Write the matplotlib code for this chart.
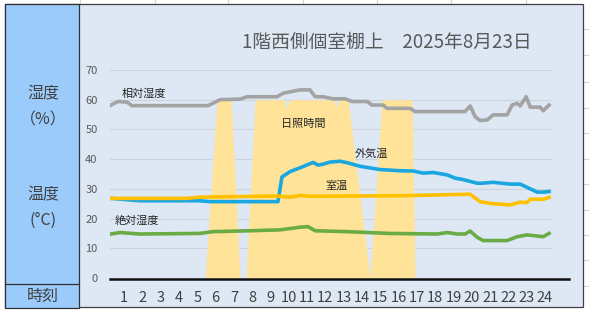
import numpy as np
import matplotlib.pyplot as plt
from matplotlib.patches import Rectangle
from matplotlib.lines import Line2D

plt.rcParams['font.family'] = ['Noto Sans CJK JP', 'DejaVu Sans']

# hour labels along the bottom
hours = list(range(1, 25))

# sunshine (fraction of each 10 min that was sunny)
sun_t = [0.25, 5.43, 6.08, 6.85, 7.34, 7.67, 8.16, 9.75, 9.9, 10.05,
         12.45, 12.6, 12.75, 13.24, 14.44, 15.10, 16.74, 16.9, 24.4]
sun_v = [0, 0, 1, 1, 0, 0, 1, 1, 0.95, 1,
         1, 0.96, 1, 1, 0, 1, 1, 0, 0]

# relative humidity (%)
rh_t = [0.29, 0.67, 1.16, 1.44, 5.59, 6.25, 7.34, 7.72, 9.36, 9.69, 10.62,
        11.16, 11.44, 11.87, 12.42, 13.08, 13.46, 14.28, 14.55, 15.15, 15.37,
        16.63, 16.9, 19.63, 19.91, 20.18, 20.45, 20.84, 21.17, 21.93, 22.2,
        22.48, 22.64, 22.97, 23.19, 23.73, 23.9, 24.22]
rh_v = [58.2, 59.4, 59.2, 58.0, 58.0, 60.0, 60.2, 61.0, 61.0, 62.2, 63.3,
        63.3, 61.0, 61.0, 60.3, 60.3, 59.4, 59.4, 58.2, 58.2, 57.1,
        57.1, 56.0, 56.0, 57.9, 54.3, 53.0, 53.2, 54.9, 54.9, 58.2,
        58.8, 57.9, 61.0, 57.5, 57.5, 56.3, 58.2]

# outside temperature (°C)
out_t = [0.29, 1.86, 5.11, 5.70, 9.41, 9.63, 10.07, 10.62, 11.33, 11.60,
         11.87, 12.25, 12.80, 13.19, 13.89, 14.98, 16.07, 16.79, 17.34, 17.89,
         18.65, 19.09, 19.47, 20.29, 20.56, 21.16, 22.09, 22.64, 23.57, 23.90,
         24.22]
out_v = [26.8, 26.0, 26.0, 25.7, 25.7, 34.0, 35.8, 37.1, 38.9, 38.0,
         38.3, 39.0, 39.3, 38.8, 37.6, 36.5, 36.1, 36.0, 35.3, 35.5,
         34.7, 33.6, 33.2, 31.9, 31.9, 32.2, 31.6, 31.6, 28.9, 28.9,
         29.1]

# room temperature (°C)
room_t = [0.29, 4.44, 5.15, 9.36, 10.07, 10.62, 11.16, 16.25, 19.91, 20.45,
          21.0, 22.09, 22.64, 23.02, 23.19, 23.90, 24.22]
room_v = [26.8, 26.8, 27.2, 27.6, 27.2, 27.8, 27.5, 27.7, 28.2, 25.7,
          25.1, 24.6, 25.5, 25.4, 26.5, 26.5, 27.1]

# absolute humidity (g/m3)
ah_t = [0.29, 0.78, 1.86, 5.15, 5.86, 7.88, 9.52, 10.62, 11.05, 11.44,
        13.19, 15.5, 18.1, 18.65, 19.2, 19.63, 19.91, 20.29, 20.62, 21.93,
        22.48, 23.02, 23.90, 24.22]
ah_v = [14.8, 15.3, 14.8, 15.0, 15.6, 15.9, 16.2, 17.1, 17.3, 15.9,
        15.6, 15.0, 14.8, 15.3, 14.8, 14.8, 15.8, 13.7, 12.6, 12.6,
        13.9, 14.5, 13.9, 15.0]

W, H = 589, 312
fig = plt.figure(figsize=(W / 100, H / 100), dpi=100)
fig.patch.set_facecolor('white')


def px(x, y):
    return x / W, 1 - y / H


def box(x0, y0, x1, y1, **kw):
    fx0, fy1 = px(x0, y1)
    r = Rectangle((fx0, fy1), (x1 - x0) / W, (y1 - y0) / H,
                  transform=fig.transFigure, zorder=0, **kw)
    fig.patches.append(r)


def fline(x0, y0, x1, y1, **kw):
    a, b = px(x0, y0)
    c, d = px(x1, y1)
    fig.lines.append(Line2D([a, c], [b, d], transform=fig.transFigure, **kw))


# sheet gridlines behind the chart
for gx in [80, 155, 228, 303, 377, 451, 526]:
    fline(gx, 0, gx, 5, color='#d4d4d4', lw=0.8, zorder=0)
for gy in [29, 55, 82, 108, 133, 159, 184, 210, 235, 260, 286]:
    fline(583, gy, 589, gy, color='#d4d4d4', lw=0.8, zorder=0)

# chart frame and side label column
box(5, 4, 583, 307, facecolor='#dde8f4', edgecolor='#404040', lw=0.9)
box(5, 4, 79, 308, facecolor='#9bcbfb', edgecolor='#303030', lw=0.9)
fline(5, 284, 79, 284, color='#303030', lw=0.9, zorder=1)

side = dict(ha='center', va='center', fontsize=11.5, color='#404040')
fig.text(*px(43, 94), '湿度', **side)
fig.text(*px(43, 120), '（%）', **side)
fig.text(*px(43, 195), '温度', **side)
fig.text(*px(43, 220), '(°C)', **side)
fig.text(*px(43, 296), '時刻', **side)

ax = fig.add_axes([110 / W, (H - 278) / H, 442 / W, 208 / H])
ax.set_zorder(2)
ax.set_facecolor('none')
ax.set_xlim(0.235, 24.38)
ax.set_ylim(0, 70)

ax.fill_between(sun_t, np.array(sun_v) * 60, 0, color='#ffe398', lw=0, zorder=1)
ax.plot(rh_t, rh_v, color='#a3a3a3', lw=2.6, zorder=3)
ax.plot(out_t, out_v, color='#1aa7e0', lw=2.6, zorder=3)
ax.plot(room_t, room_v, color='#ffc000', lw=2.6, zorder=3)
ax.plot(ah_t, ah_v, color='#6aab45', lw=2.6, zorder=3)

ax.set_yticks(range(0, 80, 10))
ax.grid(axis='y', color='#cdd4dc', lw=0.8, zorder=0)
ax.set_axisbelow(True)
ax.tick_params(axis='y', length=0, pad=9, labelsize=8, labelcolor='#595959')
ax.set_xticks(hours)
ax.set_xticklabels([str(h) for h in hours])
ax.tick_params(axis='x', length=0, pad=9, labelsize=10.5, labelcolor='#404040')
for s in ax.spines.values():
    s.set_visible(False)

# baseline
fline(110, 279, 569, 279, color='#111111', lw=1.8, zorder=3)

lab = dict(fontsize=8, color='#262626', va='center', zorder=5)
ax.text(0.9, 62, '相対湿度', ha='left', **lab)
ax.text(10.8, 51.9, '日照時間', ha='center', **lab)
ax.text(14.5, 41.8, '外気温', ha='center', **lab)
ax.text(12.6, 31, '室温', ha='center', **lab)
ax.text(0.5, 19.2, '絶対湿度', ha='left', **lab)

fig.text(*px(387, 42), '1階西側個室棚上　2025年8月23日', ha='center', va='center',
         fontsize=13.5, color='#595959')

fig.savefig('out.png', dpi=100)
